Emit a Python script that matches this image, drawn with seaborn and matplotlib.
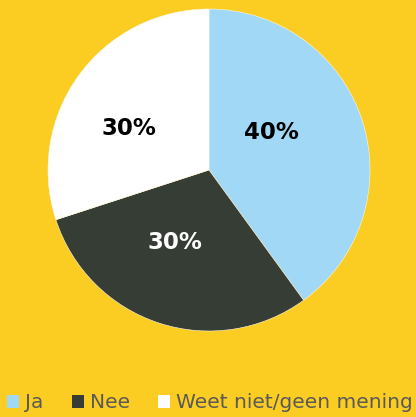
import matplotlib
matplotlib.use('Agg')
import matplotlib.pyplot as plt
import seaborn as sns
from matplotlib.patches import Patch

categories = ['Ja', 'Nee', 'Weet niet/geen mening']
shares = [40, 30, 30]
slice_colors = ['#A1D8F5', '#363D35', '#FFFFFF']
label_colors = ['black', 'white', 'black']
# label placement inside each slice (fraction of radius)
label_pos = [(0.39, 0.23), (-0.21, -0.45), (-0.50, 0.26)]

sns.set_theme(style='white')
bg = '#FBCC22'

fig = plt.figure(figsize=(4.16, 4.17), dpi=100)
fig.patch.set_facecolor(bg)
ax = fig.add_axes([48 / 416, 86 / 417, 322 / 416, 322 / 417])
ax.set_facecolor(bg)

wedges, texts, autotexts = ax.pie(shares, colors=slice_colors, startangle=90, counterclock=False,
                                  autopct='%d%%', pctdistance=0.5,
                                  wedgeprops=dict(edgecolor='#FFF8E0', linewidth=0.4),
                                  textprops=dict(fontsize=16.5, fontweight='bold'))
for t, c, (x, y) in zip(autotexts, label_colors, label_pos):
    t.set_color(c)
    t.set_position((x, y))
ax.set_xlim(-1, 1)
ax.set_ylim(-1, 1)
ax.set_aspect('equal')

handles = [Patch(facecolor=c, edgecolor='none') for c in slice_colors]
fig.legend(handles, categories, loc='center', bbox_to_anchor=(0.505, 1 - 403 / 417), ncol=3,
           frameon=False, fontsize=14.5, labelcolor='#595959',
           handlelength=0.6, handleheight=0.6, handletextpad=0.3, columnspacing=1.4,
           borderpad=0, borderaxespad=0)

plt.savefig('out.png', dpi=100, facecolor=bg)
plt.close()
